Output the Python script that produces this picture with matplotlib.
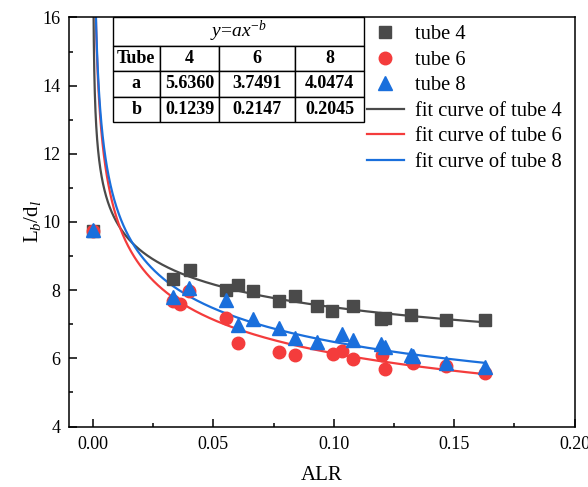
import numpy as np
import matplotlib
matplotlib.use("Agg")
import matplotlib.pyplot as plt
from matplotlib.ticker import MultipleLocator

plt.rcParams['font.family'] = ['Liberation Serif', 'DejaVu Serif']
plt.rcParams['mathtext.fontset'] = 'custom'
plt.rcParams['mathtext.rm'] = 'Liberation Serif'
plt.rcParams['mathtext.it'] = 'Liberation Serif:italic'
plt.rcParams['mathtext.bf'] = 'Liberation Serif:bold'

# ---------------- data ----------------
x4 = [0.0, 0.0332, 0.0402, 0.0551, 0.0600, 0.0665, 0.0772, 0.0839, 0.0931, 0.0994,
      0.1079, 0.1198, 0.1212, 0.1319, 0.1464, 0.1627]
y4 = [9.75, 8.32, 8.59, 8.01, 8.16, 7.99, 7.68, 7.83, 7.55, 7.39,
      7.55, 7.15, 7.17, 7.26, 7.13, 7.13]

x6 = [0.0, 0.0332, 0.0360, 0.0399, 0.0551, 0.0600, 0.0772, 0.0839, 0.0995, 0.1036,
      0.1078, 0.1199, 0.1213, 0.1330, 0.1464, 0.1627]
y6 = [9.74, 7.69, 7.60, 7.98, 7.17, 6.46, 6.20, 6.10, 6.12, 6.23,
      5.99, 6.09, 5.70, 5.86, 5.79, 5.57]

x8 = [0.0, 0.0330, 0.0399, 0.0551, 0.0602, 0.0665, 0.0772, 0.0839, 0.0931, 0.1036,
      0.1078, 0.1198, 0.1212, 0.1319, 0.1330, 0.1464, 0.1627]
y8 = [9.76, 7.80, 8.05, 7.70, 6.99, 7.16, 6.90, 6.60, 6.49, 6.71,
      6.54, 6.42, 6.32, 6.09, 6.07, 5.87, 5.75]

tubes = ['4', '6', '8']
a_vals = [5.6360, 3.7491, 4.0474]
b_vals = [0.1239, 0.2147, 0.2045]

xticks = [0.00, 0.05, 0.10, 0.15, 0.20]
yticks = [4, 6, 8, 10, 12, 14, 16]

c_dark = '#4a4a4a'
c_red = '#f43c3c'
c_blue = '#1a6fdc'

# ---------------- figure ----------------
fig = plt.figure(figsize=(5.88, 4.87), dpi=100)
ax = fig.add_axes([0.1173, 0.1242, 0.8599, 0.8399])

ax.plot(x4, y4, ls='none', marker='s', ms=8.6, color=c_dark, label='tube 4', zorder=3)
ax.plot(x6, y6, ls='none', marker='o', ms=9.0, color=c_red, label='tube 6', zorder=4)
ax.plot(x8, y8, ls='none', marker='^', ms=9.8, color=c_blue, label='tube 8', zorder=5)

xf = np.geomspace(1e-5, max(x4), 600)
for a, b, c, t in zip(a_vals, b_vals, [c_dark, c_red, c_blue], tubes):
    ax.plot(xf, a * xf ** (-b), color=c, lw=1.6, label=f'fit curve of tube {t}', zorder=2)

ax.set_xlim(-0.01, 0.20)
ax.set_ylim(4, 16)
ax.set_xticks(xticks)
ax.set_xticklabels([f'{v:.2f}' for v in xticks])
ax.set_yticks(yticks)
ax.xaxis.set_minor_locator(MultipleLocator(0.025))
ax.yaxis.set_minor_locator(MultipleLocator(1))
ax.tick_params(which='both', direction='in', labelsize=13, width=1.1)
ax.tick_params(which='major', length=5.5)
ax.tick_params(which='minor', length=3)
ax.tick_params(axis='x', pad=7)
ax.tick_params(axis='y', pad=6)
for s in ax.spines.values():
    s.set_linewidth(1.1)

ax.set_xlabel('ALR', fontsize=15, labelpad=9)
ax.set_ylabel(r'L$_{\mathit{b}}$/d$_{\mathit{l}}$', fontsize=15, labelpad=0)

# ---------------- legend ----------------
leg = ax.legend(loc='upper left', bbox_to_anchor=(0.589, 0.982), frameon=False,
                fontsize=14.8, borderpad=0, borderaxespad=0, labelspacing=0.3,
                handlelength=1.8, handletextpad=0.55)

# ---------------- table ----------------
col_edges = [0.0864, 0.1800, 0.2973, 0.4476, 0.5835]
row_edges = [1.0, 0.931, 0.8675, 0.805, 0.7438]
widths = np.diff(col_edges) / (col_edges[-1] - col_edges[0])

hdr = ax.table(cellText=[[r'$\mathit{y}$=$\mathit{ax}^{\mathit{-b}}$']], cellLoc='center',
               bbox=[col_edges[0], row_edges[1], col_edges[-1] - col_edges[0], row_edges[0] - row_edges[1]])
hdr.auto_set_font_size(False)
for cell in hdr.get_celld().values():
    cell.set_linewidth(1.0)
    cell.get_text().set_fontsize(14)
    cell.set_facecolor('white')
hdr.set_zorder(6)

body_text = [['Tube'] + tubes,
             ['a'] + [f'{v:.4f}' for v in a_vals],
             ['b'] + [f'{v:.4f}' for v in b_vals]]
tb = ax.table(cellText=body_text, cellLoc='center', colWidths=list(widths),
              bbox=[col_edges[0], row_edges[-1], col_edges[-1] - col_edges[0], row_edges[1] - row_edges[-1]])
tb.auto_set_font_size(False)
for cell in tb.get_celld().values():
    cell.set_linewidth(1.0)
    cell.get_text().set_fontsize(13)
    cell.get_text().set_fontweight('bold')
    cell.set_facecolor('white')
tb.set_zorder(6)

fig.savefig('out.png', dpi=100)
